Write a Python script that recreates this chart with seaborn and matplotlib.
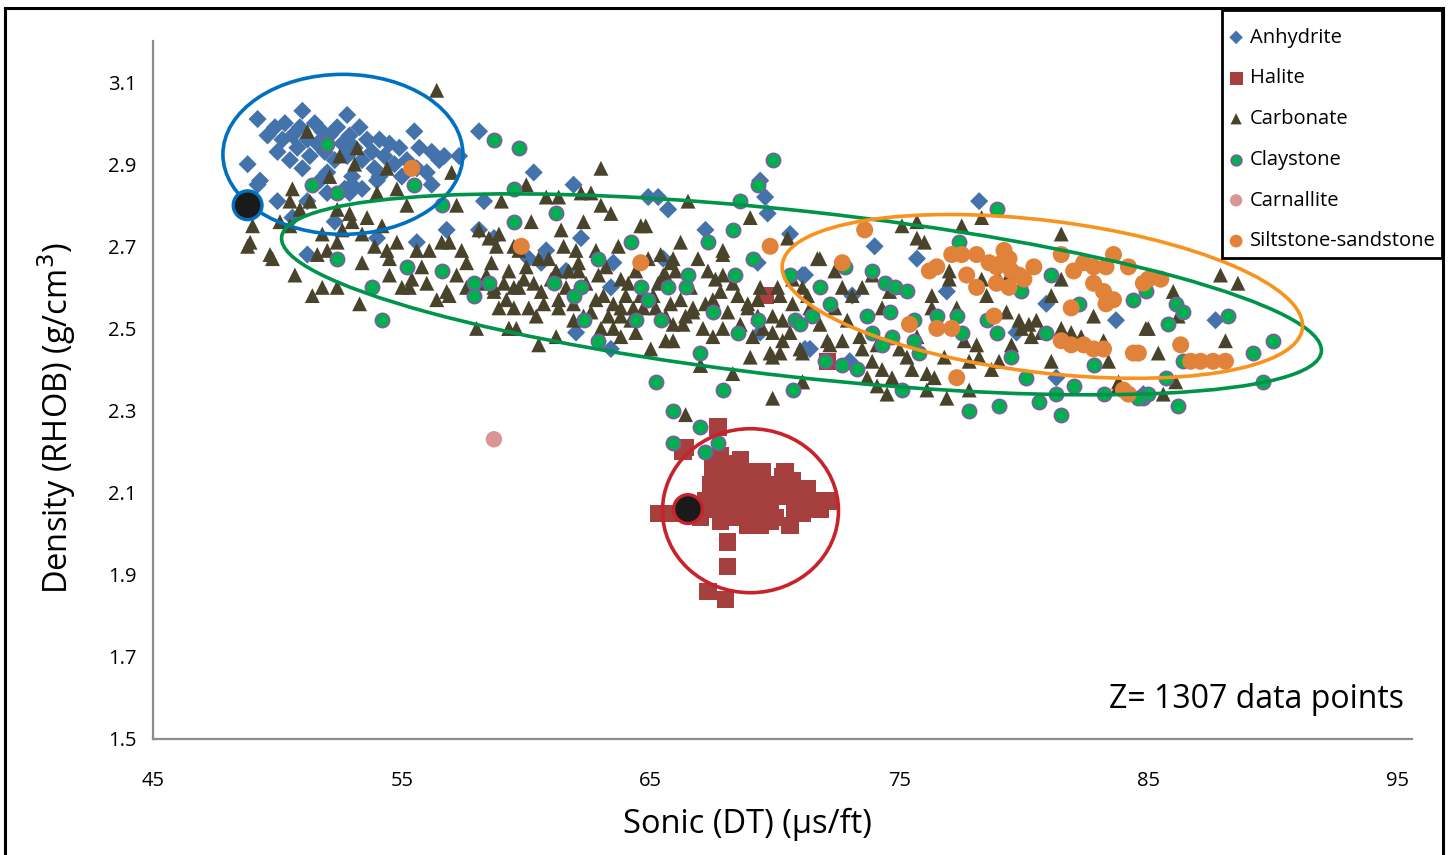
import matplotlib
matplotlib.use("Agg")
import matplotlib.pyplot as plt
import matplotlib.transforms as mtransforms
from matplotlib.patches import Ellipse, Rectangle
import seaborn as sns
import pandas as pd

# DATA ------------------------------------------------------------------------------

anhydrite = [
    (49.6, 2.97), (49.9, 2.99), (50.2, 2.96), (50.3, 3.00), (50.6, 2.97), (50.8, 2.94),
    (50.9, 2.99), (51.2, 2.96), (51.3, 2.92), (51.5, 3.00), (51.6, 2.95), (51.8, 2.98),
    (51.9, 2.93), (52.1, 2.97), (52.3, 2.91), (52.4, 2.99), (52.6, 2.95), (52.8, 2.92),
    (52.9, 2.97), (53.1, 2.94), (53.3, 2.99), (53.4, 2.91), (53.6, 2.96), (53.8, 2.93),
    (53.9, 2.89), (54.1, 2.96), (54.3, 2.92), (54.5, 2.95), (54.7, 2.90), (54.9, 2.94),
    (55.2, 2.91), (50.0, 2.93), (50.5, 2.91), (51.0, 2.89), (52.0, 2.88), (53.0, 2.87),
    (54.0, 2.86), (55.0, 2.87), (51.7, 2.86), (52.7, 2.84), (55.6, 2.89), (56.0, 2.88),
    (56.5, 2.91), (49.2, 3.01), (51.0, 3.03), (52.8, 3.02), (48.8, 2.90), (55.5, 2.98),
    (55.7, 2.94), (56.2, 2.93), (56.7, 2.92), (57.3, 2.92), (56.2, 2.85), (53.4, 2.84),
    (52.9, 2.83), (49.2, 2.85), (50.0, 2.81), (50.6, 2.77), (52.3, 2.76), (54.0, 2.72),
    (55.6, 2.71), (56.8, 2.74), (58.1, 2.98), (58.3, 2.81), (51.2, 2.68), (54.1, 2.87),
    (58.7, 2.72), (49.3, 2.86), (51.2, 2.81), (52.0, 2.83), (53.0, 2.85),
    (60.3, 2.88), (61.9, 2.85), (64.9, 2.82), (65.3, 2.82), (65.7, 2.79), (69.4, 2.86),
    (69.6, 2.82), (69.7, 2.78), (67.2, 2.74), (62.2, 2.72), (70.6, 2.73), (58.1, 2.74),
    (60.8, 2.69), (60.6, 2.66), (63.5, 2.66), (65.5, 2.67), (69.3, 2.66), (71.1, 2.63),
    (61.6, 2.64), (63.4, 2.60), (62.0, 2.49), (63.4, 2.45), (71.4, 2.45), (69.4, 2.49),
    (78.2, 2.81), (74.0, 2.70), (75.7, 2.67), (71.2, 2.63), (76.9, 2.59), (80.9, 2.56),
    (83.7, 2.52), (73.1, 2.58), (71.2, 2.45), (73.0, 2.42), (79.7, 2.49), (81.3, 2.38),
    (87.7, 2.52), (84.8, 2.34), (71.1, 2.10), (60.1, 2.67),
]

halite = [
    (67.7, 2.26), (66.3, 2.20), (65.6, 2.05), (67.5, 2.17), (68.3, 2.17), (67.4, 2.12),
    (68.1, 2.11), (68.6, 2.13), (69.5, 2.14), (70.3, 2.14), (70.7, 2.13), (67.2, 2.08),
    (68.2, 2.07), (69.0, 2.08), (69.8, 2.08), (70.5, 2.09), (71.5, 2.08), (72.2, 2.08),
    (71.1, 2.05), (70.6, 2.02), (69.8, 2.03), (68.9, 2.02), (67.8, 2.03), (67.0, 2.04),
    (68.1, 1.98), (68.1, 1.92), (67.3, 1.86), (68.0, 1.84), (69.2, 2.05), (67.7, 2.15),
    (68.9, 2.11), (69.5, 2.11), (70.0, 2.04), (65.3, 2.05), (66.4, 2.21), (69.6, 2.58),
    (72.1, 2.42), (68.5, 2.09), (69.9, 2.11), (67.6, 2.06), (68.6, 2.05), (69.4, 2.09),
    (70.9, 2.10), (68.2, 2.14), (66.0, 2.05), (66.8, 2.06), (67.8, 2.19), (68.6, 2.18),
    (69.5, 2.15), (70.4, 2.15), (67.4, 2.10), (67.9, 2.09), (68.4, 2.12), (68.8, 2.15),
    (69.2, 2.12), (69.7, 2.06), (70.2, 2.09), (70.8, 2.06), (71.3, 2.11), (68.4, 2.04),
    (69.4, 2.02), (67.5, 2.14), (70.0, 2.12), (71.8, 2.06),
]

carbonate = [
    (48.9, 2.71), (49.0, 2.75), (49.7, 2.68), (50.5, 2.75), (50.9, 2.79), (51.2, 2.98),
    (52.5, 2.92), (53.2, 2.94), (53.1, 2.90), (54.4, 2.89), (52.1, 2.87), (56.4, 3.08),
    (57.0, 2.88), (50.6, 2.84), (54.8, 2.84), (53.6, 2.77), (54.0, 2.83), (55.2, 2.80),
    (57.2, 2.80), (51.3, 2.81), (52.4, 2.79), (52.9, 2.78), (50.5, 2.81), (50.1, 2.76),
    (48.8, 2.70), (49.8, 2.67), (50.7, 2.63), (51.4, 2.58), (51.8, 2.60), (52.4, 2.60),
    (53.3, 2.56), (51.6, 2.68), (52.4, 2.71), (53.4, 2.66), (54.4, 2.69), (54.8, 2.71),
    (55.6, 2.69), (56.1, 2.69), (56.6, 2.71), (56.9, 2.71), (57.4, 2.69), (58.1, 2.74),
    (58.8, 2.70), (54.5, 2.63), (55.0, 2.60), (55.4, 2.62), (56.0, 2.61), (56.4, 2.57),
    (56.8, 2.59), (57.2, 2.63), (57.6, 2.60), (58.0, 2.50), (58.3, 2.61), (58.7, 2.59),
    (53.4, 2.73), (53.0, 2.76), (51.8, 2.73), (52.6, 2.74), (52.0, 2.69), (54.5, 2.67),
    (55.3, 2.60), (56.9, 2.58), (59.3, 2.50), (59.6, 2.50),
    (63.0, 2.89), (66.5, 2.81), (62.2, 2.83), (62.6, 2.83), (61.3, 2.82), (60.8, 2.82),
    (60.0, 2.85), (59.0, 2.81), (63.0, 2.80), (63.4, 2.78), (62.3, 2.76), (64.6, 2.75),
    (64.8, 2.75), (69.0, 2.77), (66.2, 2.71), (67.9, 2.69), (70.5, 2.72), (71.7, 2.67),
    (58.5, 2.72), (60.5, 2.46), (61.2, 2.48), (59.3, 2.50), (65.0, 2.45), (67.0, 2.41),
    (68.3, 2.39), (69.9, 2.33), (66.4, 2.29), (71.1, 2.37), (69.0, 2.43), (69.8, 2.44),
    (70.2, 2.44), (71.0, 2.45), (65.6, 2.47), (65.9, 2.51), (66.4, 2.53), (66.7, 2.55),
    (67.5, 2.57), (67.8, 2.59), (67.9, 2.63), (68.3, 2.61), (68.9, 2.56), (69.3, 2.53),
    (69.5, 2.50), (69.9, 2.53), (70.2, 2.58), (70.7, 2.56), (71.4, 2.55), (71.8, 2.51),
    (72.1, 2.47), (70.3, 2.47), (64.0, 2.58), (63.5, 2.56), (62.8, 2.57), (62.6, 2.54),
    (63.8, 2.53), (64.3, 2.55), (64.7, 2.55), (65.2, 2.55), (65.6, 2.63), (66.0, 2.64),
    (65.1, 2.58), (63.5, 2.50), (63.0, 2.50), (62.3, 2.53), (61.9, 2.56), (61.3, 2.57),
    (60.7, 2.56), (60.1, 2.55), (59.5, 2.55), (58.9, 2.55), (58.7, 2.60), (59.3, 2.64),
    (60.0, 2.65), (60.5, 2.67), (61.5, 2.70), (62.0, 2.69), (62.1, 2.64), (61.2, 2.64),
    (60.3, 2.61), (59.5, 2.60), (59.1, 2.61), (58.4, 2.63), (59.7, 2.69), (58.9, 2.73),
    (59.5, 2.70), (62.8, 2.69), (63.2, 2.65), (63.8, 2.62), (64.4, 2.64), (64.9, 2.67),
    (65.4, 2.68), (65.8, 2.66), (60.9, 2.67), (62.1, 2.66), (61.7, 2.64), (59.7, 2.60),
    (60.4, 2.53), (61.3, 2.55), (61.9, 2.52), (63.1, 2.58), (63.8, 2.55), (64.2, 2.52),
    (64.4, 2.49), (63.8, 2.48), (65.9, 2.47), (66.3, 2.51), (65.6, 2.53), (65.5, 2.63),
    (65.9, 2.67), (66.2, 2.57), (66.7, 2.54), (67.1, 2.50), (67.5, 2.48), (67.9, 2.50),
    (67.3, 2.64), (67.9, 2.68), (68.5, 2.58), (68.9, 2.55), (69.1, 2.48), (69.9, 2.49),
    (70.3, 2.52), (71.1, 2.44), (69.9, 2.43), (67.0, 2.41), (71.1, 2.37), (70.1, 2.60),
    (69.4, 2.60), (70.7, 2.62),
    (58.6, 2.66), (59.2, 2.57), (59.9, 2.62), (60.6, 2.59), (61.0, 2.62), (61.6, 2.60),
    (62.4, 2.61), (62.9, 2.63), (63.3, 2.53), (64.1, 2.61), (64.6, 2.58), (65.3, 2.61),
    (65.8, 2.56), (66.6, 2.60), (67.2, 2.56), (67.6, 2.62), (68.1, 2.54), (68.6, 2.51),
    (69.3, 2.57), (70.6, 2.49), (71.3, 2.58), (72.4, 2.55), (72.9, 2.52), (73.4, 2.48),
    (76.8, 2.43), (77.6, 2.47), (55.8, 2.65), (57.6, 2.66), (54.2, 2.75), (53.9, 2.70),
    (60.2, 2.76), (61.4, 2.74), (63.7, 2.70), (66.9, 2.67), (73.5, 2.45), (75.7, 2.48),
    (75.1, 2.75), (75.7, 2.76), (75.7, 2.72), (76.0, 2.71), (77.5, 2.75), (78.3, 2.77),
    (81.5, 2.73), (71.8, 2.67), (72.4, 2.64), (72.7, 2.60), (73.1, 2.58), (73.5, 2.60),
    (73.9, 2.63), (74.6, 2.59), (74.9, 2.60), (74.3, 2.55), (76.3, 2.58), (77.0, 2.62),
    (77.3, 2.55), (76.3, 2.55), (71.1, 2.60), (72.2, 2.46), (72.7, 2.47), (74.1, 2.46),
    (73.9, 2.42), (74.3, 2.40), (74.7, 2.38), (74.5, 2.34), (74.1, 2.36), (73.7, 2.38),
    (75.5, 2.40), (76.1, 2.39), (76.4, 2.38), (76.1, 2.35), (75.3, 2.43), (75.0, 2.45),
    (76.9, 2.33), (77.8, 2.35), (77.8, 2.42), (78.2, 2.43), (78.1, 2.46), (78.7, 2.40),
    (79.0, 2.42), (79.5, 2.46), (79.8, 2.52), (80.2, 2.51), (80.5, 2.52), (80.3, 2.48),
    (80.7, 2.49), (81.1, 2.42), (81.5, 2.50), (81.9, 2.49), (82.3, 2.48), (82.8, 2.53),
    (83.2, 2.47), (83.4, 2.42), (83.8, 2.37), (84.9, 2.50), (79.0, 2.62), (79.4, 2.63),
    (81.1, 2.58), (81.5, 2.62), (77.0, 2.64), (78.3, 2.62), (78.5, 2.58), (79.3, 2.54),
    (79.9, 2.50), (87.9, 2.63), (88.6, 2.61), (86.0, 2.59), (85.0, 2.50), (85.4, 2.44),
    (88.1, 2.47), (83.8, 2.36), (86.1, 2.37), (85.6, 2.34), (86.2, 2.53),
]

claystone = [
    (52.0, 2.95), (51.4, 2.85), (52.4, 2.83), (55.5, 2.85), (58.7, 2.96), (56.6, 2.80),
    (52.4, 2.67), (55.2, 2.65), (56.6, 2.64), (57.9, 2.61), (58.5, 2.61), (57.9, 2.58),
    (53.8, 2.60), (54.2, 2.52), (59.7, 2.94),
    (69.9, 2.91), (69.3, 2.85), (68.6, 2.81), (59.5, 2.84), (61.2, 2.78), (59.5, 2.76),
    (64.2, 2.71), (67.3, 2.71), (68.3, 2.74), (69.1, 2.67), (62.9, 2.67), (61.1, 2.61),
    (62.2, 2.60), (61.9, 2.58), (64.6, 2.60), (64.9, 2.57), (65.7, 2.60), (66.4, 2.60),
    (66.5, 2.63), (68.4, 2.63), (67.5, 2.54), (64.4, 2.52), (65.4, 2.52), (62.3, 2.52),
    (62.9, 2.47), (68.5, 2.49), (69.3, 2.52), (70.8, 2.52), (71.5, 2.53), (71.0, 2.51),
    (70.6, 2.63), (71.8, 2.60), (67.0, 2.44), (72.0, 2.42), (65.2, 2.37), (67.9, 2.35),
    (70.7, 2.35), (65.9, 2.30), (67.0, 2.26), (65.9, 2.22), (67.7, 2.22), (67.2, 2.20),
    (78.9, 2.79), (77.4, 2.71), (73.9, 2.64), (72.8, 2.65), (72.2, 2.56), (74.4, 2.61),
    (74.8, 2.60), (75.3, 2.59), (73.7, 2.53), (74.6, 2.54), (75.6, 2.52), (76.5, 2.53),
    (77.3, 2.53), (73.9, 2.49), (74.7, 2.48), (74.3, 2.46), (75.6, 2.47), (75.8, 2.44),
    (77.5, 2.49), (78.5, 2.52), (78.9, 2.49), (79.5, 2.43), (79.9, 2.59), (80.9, 2.49),
    (81.1, 2.63), (82.2, 2.56), (72.7, 2.41), (73.3, 2.40), (75.1, 2.35), (77.8, 2.30),
    (79.0, 2.31), (80.6, 2.32), (80.1, 2.38), (81.3, 2.34), (81.5, 2.29), (82.0, 2.36),
    (82.8, 2.41), (83.2, 2.34), (84.4, 2.57), (84.8, 2.33), (84.9, 2.59), (86.1, 2.56),
    (86.4, 2.54), (85.8, 2.51), (88.2, 2.53), (89.2, 2.44), (90.0, 2.47), (89.6, 2.37),
    (85.7, 2.38), (85.0, 2.34), (84.6, 2.33), (86.2, 2.31), (86.4, 2.42),
]

carnallite = [(58.7, 2.23)]

siltstone = [
    (55.4, 2.89), (59.8, 2.70), (64.6, 2.66), (69.8, 2.70), (73.6, 2.74), (72.7, 2.66),
    (75.4, 2.51), (76.5, 2.50), (77.1, 2.50), (77.3, 2.38), (78.8, 2.53), (76.2, 2.64),
    (76.5, 2.65), (77.1, 2.68), (77.5, 2.68), (78.1, 2.68), (78.6, 2.66), (78.9, 2.65),
    (79.2, 2.69), (79.4, 2.67), (79.5, 2.64), (79.8, 2.63), (78.9, 2.61), (79.4, 2.60),
    (77.7, 2.63), (78.1, 2.60), (80.4, 2.65), (81.5, 2.68), (82.0, 2.64), (82.4, 2.66),
    (82.8, 2.65), (83.3, 2.65), (83.6, 2.68), (84.2, 2.65), (84.8, 2.61), (82.8, 2.61),
    (83.2, 2.59), (83.6, 2.57), (83.3, 2.56), (81.9, 2.55), (81.5, 2.47), (81.9, 2.46),
    (82.4, 2.46), (82.8, 2.45), (83.2, 2.45), (84.4, 2.44), (84.0, 2.35), (85.0, 2.62),
    (85.5, 2.62), (84.6, 2.44), (86.3, 2.46), (86.7, 2.42), (87.1, 2.42), (87.6, 2.42),
    (88.1, 2.42), (84.2, 2.34), (79.1, 2.66), (80.0, 2.62),
]

# end-member points (big black dots) and the outlined clusters
end_members = [(48.8, 2.80), (66.5, 2.06)]
end_member_edges = ["#0070C0", "#C8232C"]

# (centre x, centre y, width in, height in, angle deg, colour)
clusters = [
    (52.63, 2.924, 2.40, 1.60, 0.0, "#0070C0"),
    (71.06, 2.583, 10.46, 1.66, -6.3, "#00934A"),
    (80.74, 2.578, 5.24, 1.52, -7.0, "#F7931E"),
    (69.01, 2.056, 1.76, 1.64, 0.0, "#C8232C"),
]

x_ticks = [45, 55, 65, 75, 85, 95]
y_ticks = [1.5, 1.7, 1.9, 2.1, 2.3, 2.5, 2.7, 2.9, 3.1]

# style per lithology: marker, fill, edge, size
series = [
    ("Anhydrite", anhydrite, "D", "#4472AA", "none", 85),
    ("Halite", halite, "s", "#A5403E", "none", 155),
    ("Carbonate", carbonate, "^", "#49432C", "none", 115),
    ("Claystone", claystone, "o", "#00B050", "#7E5BA0", 105),
    ("Carnallite", carnallite, "o", "#D99694", "none", 140),
    ("Siltstone-sandstone", siltstone, "o", "#E0823A", "none", 150),
]

# PLOT ---------------------------------------------------------------------------------

sns.set_style("white")
plt.rcParams["font.family"] = ["Open Sans", "DejaVu Sans"]
plt.rcParams["text.color"] = "black"
plt.rcParams["axes.labelcolor"] = "black"

fig = plt.figure(figsize=(14.55, 8.55), dpi=100)
ax = fig.add_axes([0.1052, 0.1357, 0.8653, 0.8163])

for name, pts, marker, color, edge, size in series:
    df = pd.DataFrame(pts, columns=["dt", "rhob"])
    lw = 1.2 if edge != "none" else 0
    sns.scatterplot(data=df, x="dt", y="rhob", ax=ax, marker=marker, color=color,
                    edgecolor=edge, linewidth=lw, s=size, label=name, zorder=3)

em = pd.DataFrame(end_members, columns=["dt", "rhob"])
sns.scatterplot(data=em, x="dt", y="rhob", ax=ax, color="#1A1A1A",
                edgecolor=end_member_edges, linewidth=2.4, s=430, zorder=6, legend=False)

for cx, cy, w, h, ang, col in clusters:
    trans = fig.dpi_scale_trans + mtransforms.ScaledTranslation(cx, cy, ax.transData)
    ax.add_patch(Ellipse((0, 0), w, h, angle=ang, transform=trans, fill=False,
                         edgecolor=col, linewidth=2.6, zorder=5))

ax.set_xlim(45, 95.6)
ax.set_ylim(1.5, 3.2)
ax.set_xticks(x_ticks)
ax.set_yticks(y_ticks)
ax.set_yticklabels([f"{v:.1f}" for v in y_ticks])

for side in ["top", "right"]:
    ax.spines[side].set_visible(False)
for side in ["left", "bottom"]:
    ax.spines[side].set_color("#8C8C8C")
    ax.spines[side].set_linewidth(1.6)
ax.tick_params(direction="out", length=6, width=1.4, color="#8C8C8C",
               labelsize=14.5, labelcolor="black", pad=6)
ax.tick_params(axis="x", pad=17)

ax.set_xlabel("Sonic (DT) (µs/ft)", fontsize=23.5)
ax.set_ylabel("Density (RHOB) (g/cm$^3$)", fontsize=23.5)
ax.xaxis.set_label_coords(0.472, -0.099)
ax.yaxis.set_label_coords(-0.060, 0.46)

ax.text(0.9936, 0.056, "Z= 1307 data points", transform=ax.transAxes,
        ha="right", va="center", fontsize=23)

# legend entries without a frame; the box is drawn separately (tight sides, roomy top)
leg = ax.legend(loc="upper right", bbox_to_anchor=(1442 / 1455, 1 - 21.6 / 855),
                bbox_transform=fig.transFigure, borderaxespad=0, frameon=False,
                fontsize=14.5, markerscale=0.75, labelspacing=1.03,
                handlelength=0.7, handletextpad=0.35, borderpad=0.3)
leg.set_zorder(10)
ax.add_patch(Rectangle((1222 / 1455, 1 - 258 / 855), 220 / 1455, 248 / 855,
                       transform=fig.transFigure, facecolor="white", clip_on=False,
                       edgecolor="black", linewidth=2.0, zorder=9))

# outer frame round the whole picture
fig.patches.append(Rectangle((5 / 1455, -0.02), 1438 / 1455, 1.02 - 8 / 855,
                             transform=fig.transFigure, fill=False,
                             edgecolor="black", linewidth=2.2))

fig.savefig("out.png", dpi=100)
